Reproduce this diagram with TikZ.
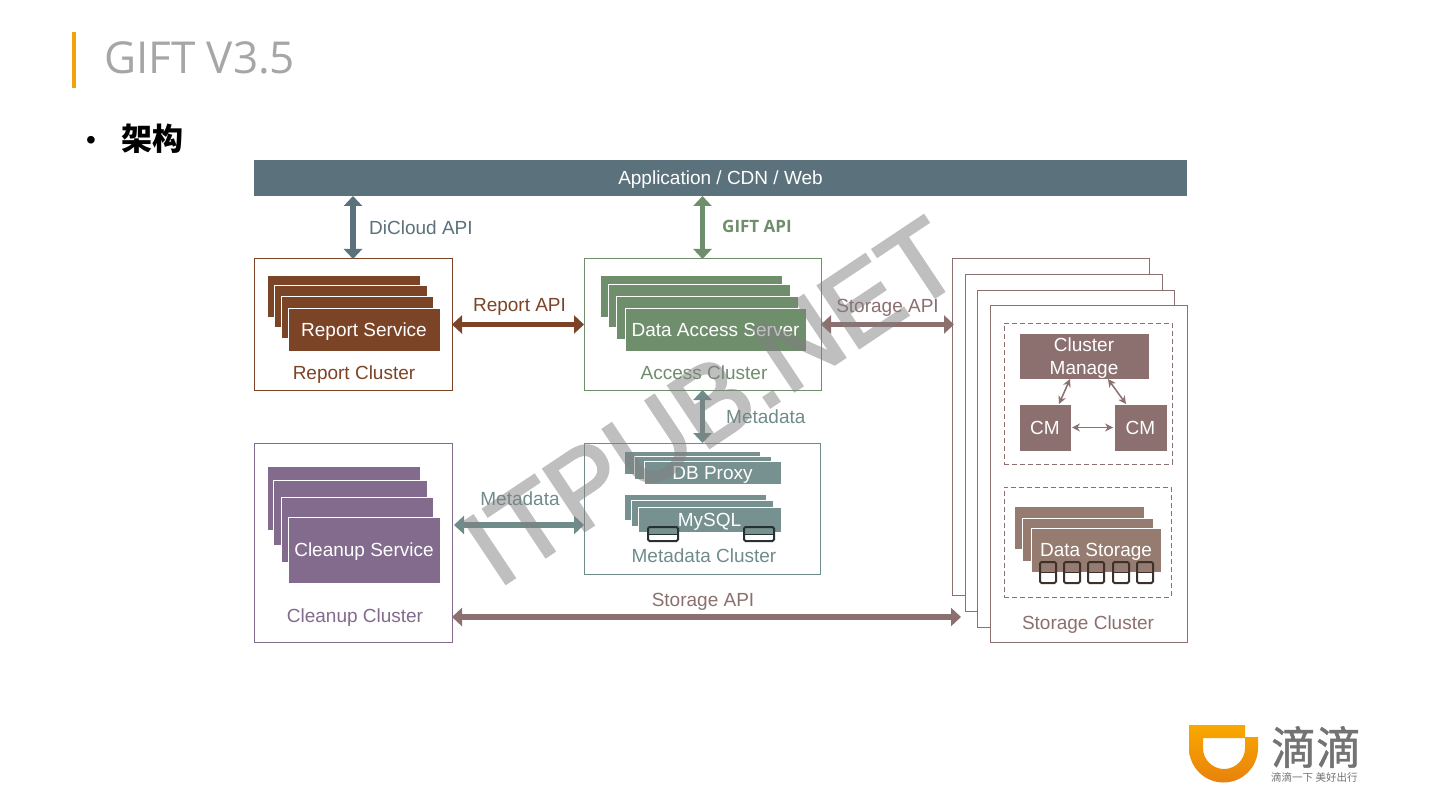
\documentclass[tikz,border=0pt]{standalone}
\usepackage{fontspec}
\setmainfont{Liberation Sans}
\newfontfamily\cjk{Noto Sans CJK SC}
\newfontfamily\cjkm[FakeBold=1]{Noto Sans CJK SC}
\newfontfamily\opensans{Open Sans}
\newfontfamily\wmfont[FakeBold=2.5]{Liberation Sans}
\usetikzlibrary{arrows.meta}
\definecolor{barc}{HTML}{5B717B}
\definecolor{repc}{HTML}{7C4427}
\definecolor{accc}{HTML}{6F8E6C}
\definecolor{metc}{HTML}{6F8C8B}
\definecolor{metd}{HTML}{76918F}
\definecolor{clnc}{HTML}{826B8C}
\definecolor{stoc}{HTML}{8C6F6F}
\definecolor{stob}{HTML}{957B70}
\definecolor{orangec}{HTML}{F0A30A}
\definecolor{logot}{HTML}{F9A800}
\definecolor{logob}{HTML}{E8820C}
\newcommand\bx[7]{\pgfmathsetmacro\bw{#5-#3}\pgfmathsetmacro\bh{#6-#4}%
  \node[#2,anchor=north west,inner sep=0pt,outer sep=0pt,minimum width=\bw pt,minimum height=\bh pt] (#1) at (#3,#4) {#7};}
\newcommand\dk[7]{\pgfmathsetmacro\bw{#5-#3}\pgfmathsetmacro\bh{#6-#4}%
  \node[diskbox=#2,anchor=north west,inner sep=0pt,outer sep=0pt,minimum width=\bw pt,minimum height=\bh pt,
    path picture={\fill[#7] (path picture bounding box.north west) rectangle (path picture bounding box.east);
      \draw[#2,line width=1pt] (path picture bounding box.west) -- (path picture bounding box.east);}] (#1) at (#3,#4) {};}
\tikzset{
  txt/.style={font=\fontsize{19}{22}\selectfont},
  onel/.style={text height=17pt,text depth=4pt},
  frame/.style={draw=#1,fill=white,line width=1pt},
  fillbox/.style={fill=#1,draw=white,line width=0.8pt,text=white,txt,align=center},
  dashbox/.style={draw=stoc,dashed,dash pattern=on 5pt off 3pt,line width=0.9pt},
  diskbox/.style={draw=#1,fill=white,line width=2pt,rounded corners=1.5pt},
  bigarrow/.style={draw=#1,line width=5.5pt,{Triangle[length=10pt,width=18pt,color=#1]}-{Triangle[length=10pt,width=18pt,color=#1]}},
  thinarrow/.style={draw=stoc,line width=1.5pt,{Stealth[length=8pt,width=8pt]}-{Stealth[length=8pt,width=8pt]}},
  lab/.style={txt,onel,text=#1,inner sep=0pt},
}
\begin{document}
\begin{tikzpicture}[x=1pt,y=-1pt]
\useasboundingbox (0,0) rectangle (1440,810);
\fill[white] (0,0) rectangle (1440,810);
% header
\bx{tbar}{fill=orangec}{72}{32}{76}{88}{}
\node[anchor=base west,inner sep=0pt,text=black!35,font=\opensans\fontsize{44}{50}\selectfont] (title) at (104,73.5) {GIFT V3.5};
\node[inner sep=0pt,font=\fontsize{28}{28}\selectfont] (bul) at (91,142.5) {•};
\node[anchor=west,inner sep=0pt,font=\cjk\bfseries\fontsize{31}{31}\selectfont] (arch) at (121,139) {架构};
% top bar
\bx{bar}{fill=barc,text=white,txt,onel}{254}{160}{1187}{196}{Application / CDN / Web}
% report cluster
\bx{rc}{frame=repc}{254}{259}{452}{390}{}
\bx{r1}{fillbox=repc}{267}{275}{420}{317}{}
\bx{r2}{fillbox=repc}{274}{285}{427}{327}{}
\bx{r3}{fillbox=repc}{281}{296}{433}{338}{}
\bx{r4}{fillbox=repc,onel}{288}{308}{440}{351}{Report Service}
\node[lab=repc] (rcl) at (354,373) {Report Cluster};
% access cluster
\bx{ac}{frame=accc}{584}{259}{821}{390}{}
\bx{a1}{fillbox=accc}{600}{275}{782}{317}{}
\bx{a2}{fillbox=accc}{608}{284}{790}{327}{}
\bx{a3}{fillbox=accc}{616}{296}{798}{339}{}
\bx{a4}{fillbox=accc,onel}{625}{308}{806}{351}{Data Access Server}
\node[lab=accc] (acl) at (704,373) {Access Cluster};
% metadata cluster
\bx{mc}{frame=metc}{584}{443}{820}{574}{}
\bx{d1}{fillbox=metd}{624}{451}{760}{474}{}
\bx{d2}{fillbox=metd}{634}{456}{771}{479}{}
\bx{d3}{fillbox=metd,onel}{644}{461}{781}{484}{DB Proxy}
\bx{m1}{fillbox=metd}{624}{494}{766}{520}{}
\bx{m2}{fillbox=metd}{631}{500}{773}{526}{}
\bx{m3}{fillbox=metd,onel}{638}{507}{781}{532}{MySQL}
\dk{md1}{black!65!metc}{648}{527}{678}{541}{metd}
\dk{md2}{black!65!metc}{744}{527}{774}{541}{metd}
\node[lab=metc] (mcl) at (704,556) {Metadata Cluster};
% cleanup cluster
\bx{cc}{frame=clnc}{254}{443}{452}{642}{}
\bx{c1}{fillbox=clnc}{267}{466}{420}{530}{}
\bx{c2}{fillbox=clnc}{273}{480}{427}{545}{}
\bx{c3}{fillbox=clnc}{281}{497}{433}{562}{}
\bx{c4}{fillbox=clnc,onel}{288}{517}{440}{583}{Cleanup Service}
\node[lab=clnc] (ccl) at (355,616) {Cleanup Cluster};
% storage cluster
\bx{p1}{frame=stoc}{952}{259}{1149}{595}{}
\bx{p2}{frame=stoc}{965}{275}{1162}{611}{}
\bx{p3}{frame=stoc}{977}{291}{1174}{627}{}
\bx{p4}{frame=stoc}{990}{306}{1187}{642}{}
\bx{db1}{dashbox}{1004}{323}{1172}{464}{}
\bx{db2}{dashbox}{1004}{487}{1171}{597}{}
\bx{cmg}{fillbox=stoc}{1019}{333}{1149}{379}{}
\node[txt,text=white,align=center,inner sep=0pt] (cmgt) at ([yshift=-2pt]cmg.center) {Cluster\\[0.5pt]Manage};
\bx{cm1}{fillbox=stoc,onel}{1019}{404}{1071}{451}{CM}
\bx{cm2}{fillbox=stoc,onel}{1114}{404}{1167}{451}{CM}
\bx{s1}{fillbox=stob}{1014}{506}{1144}{549}{}
\bx{s2}{fillbox=stob}{1022}{518}{1153}{561}{}
\bx{s3}{fillbox=stob,onel}{1031}{528}{1161}{572}{Data Storage}
\dk{sd1}{black!60!stob}{1040}{562}{1056}{583}{stob}
\dk{sd2}{black!60!stob}{1064}{562}{1080}{583}{stob}
\dk{sd3}{black!60!stob}{1088}{562}{1104}{583}{stob}
\dk{sd4}{black!60!stob}{1113}{562}{1129}{583}{stob}
\dk{sd5}{black!60!stob}{1137}{562}{1153}{583}{stob}
\node[lab=stoc] (scl) at (1088,623) {Storage Cluster};
% connectors
\coordinate (mdy) at (0,525);
\coordinate (sy) at (0,617);
\draw[bigarrow=barc] (bar.south -| rc.north) -- (rc.north);
\draw[bigarrow=accc] (bar.south -| ac.north) -- (ac.north);
\draw[bigarrow=repc] (rc.east) -- (ac.west);
\draw[bigarrow=stoc,shorten >=-2pt] (ac.east) -- (ac.east -| p1.west);
\draw[bigarrow=metc] (ac.south) -- (ac.south |- mc.north);
\draw[bigarrow=metc,shorten <=2pt] (cc.east |- mdy) -- (mc.west |- mdy);
\draw[bigarrow=stoc,shorten >=4pt] (cc.east |- sy) -- (p2.west |- sy);
\draw[thinarrow] ([xshift=-12pt]cm1.north east) -- ([xshift=-14pt]cmg.south);
\draw[thinarrow] ([xshift=12pt]cm2.north west) -- ([xshift=24pt]cmg.south);
\draw[thinarrow,shorten <=1pt,shorten >=1pt] (cm1.east) -- (cm2.west);
% connector labels
\node[lab=barc,anchor=west] (l1) at (369,228) {DiCloud API};
\node[text=accc,inner sep=0pt,anchor=west,font=\opensans\bfseries\fontsize{17}{18}\selectfont] (l2) at (722,226) {GIFT API};
\node[lab=repc] (l3) at (519.5,305) {Report API};
\node[lab=stoc] (l4) at (887.5,306) {Storage API};
\node[lab=metc,anchor=west] (l5) at (726,417) {Metadata};
\node[lab=metc] (l6) at (520,499) {Metadata};
\node[lab=stoc] (l7) at (703,600) {Storage API};
% logo
\shade[top color=logot,bottom color=logob,even odd rule]
  (1189,725) -- (1245,725) -- (1245,737) -- (1258,737) -- (1258,748)
  arc[start angle=0,end angle=-180,x radius=34.5pt,y radius=34.5pt] -- cycle
  (1203,738) -- (1245,738) -- (1245,748)
  arc[start angle=0,end angle=-180,x radius=21pt,y radius=21pt] -- cycle;
\node[anchor=west,inner sep=0pt,text=black!55,font=\cjkm\fontsize{45}{45}\selectfont] (lg1) at (1271,747) {滴滴};
\node[anchor=west,inner sep=0pt,text=black!55,font=\cjk\fontsize{10.5}{10.5}\selectfont] (lg2) at (1271,777) {滴滴一下 美好出行};
% watermark
\begin{scope}[transparency group,opacity=0.5]
\node[rotate=33.7,text=black!50,inner sep=0pt,font=\wmfont\fontsize{108}{108}\selectfont] (wm) at (712,402) {ITPUB.NET};
\end{scope}
\end{tikzpicture}
\end{document}
